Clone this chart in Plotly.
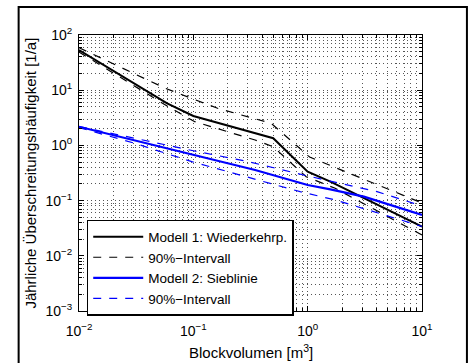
import plotly.graph_objects as go

# ---- data ----
m1_x = [0.01, 0.059, 0.1, 0.347, 0.5, 1.0, 1.58, 10]
m1_y = [53.5, 5.79, 3.41, 1.66, 1.35, 0.334, 0.22, 0.0337]

m1_up_x = [0.01, 0.057, 0.163, 0.48, 1.04, 10]
m1_up_y = [58.9, 10.8, 4.70, 2.51, 0.616, 0.0905]

m1_lo_x = [0.01, 0.059, 0.103, 0.347, 0.5, 0.97, 1.74, 10]
m1_lo_y = [49.2, 5.17, 2.69, 1.25, 0.946, 0.271, 0.167, 0.0238]

m2_x = [0.01, 0.1, 0.347, 1.0, 1.58, 3.1, 10]
m2_y = [2.18, 0.68, 0.358, 0.192, 0.160, 0.118, 0.0548]

m2_up_x = [0.01, 0.022, 0.1, 0.303, 0.918, 4.04, 8.46, 10]
m2_up_y = [2.2, 1.54, 0.80, 0.507, 0.291, 0.145, 0.0893, 0.083]

m2_lo_x = [0.01, 0.0308, 0.097, 0.283, 0.859, 1.74, 7.9, 10]
m2_lo_y = [2.1, 1.09, 0.507, 0.271, 0.145, 0.103, 0.0388, 0.034]

x_tickvals = [0.01, 0.1, 1, 10]
x_ticktext = ["10<sup>−2</sup>", "10<sup>−1</sup>", "10<sup>0</sup>", "10<sup>1</sup>"]
y_tickvals = [0.001, 0.01, 0.1, 1, 10, 100]
y_ticktext = ["10<sup>−3</sup>", "10<sup>−2</sup>", "10<sup>−1</sup>",
              "10<sup>0</sup>", "10<sup>1</sup>", "10<sup>2</sup>"]

leg_m1 = "Modell 1: Wiederkehrp."
leg_int = "90%−Intervall"
leg_m2 = "Modell 2: Sieblinie"
x_title = "Blockvolumen [m<sup>3</sup>]"
y_title = "Jährliche Überschreitungshäufigkeit [1/a]"

FONT = "Liberation Sans, Arial, sans-serif"
DASH = "8px,8px"
GRID = "#555555"

fig = go.Figure()
fig.add_trace(go.Scatter(x=m1_x, y=m1_y, mode="lines", name=leg_m1,
                         line=dict(color="black", width=2)))
fig.add_trace(go.Scatter(x=m1_up_x, y=m1_up_y, mode="lines", name=leg_int,
                         line=dict(color="black", width=1.2, dash=DASH)))
fig.add_trace(go.Scatter(x=m1_lo_x, y=m1_lo_y, mode="lines", showlegend=False,
                         line=dict(color="black", width=1.2, dash=DASH)))
fig.add_trace(go.Scatter(x=m2_x, y=m2_y, mode="lines", name=leg_m2,
                         line=dict(color="#0000ff", width=2.2)))
fig.add_trace(go.Scatter(x=m2_up_x, y=m2_up_y, mode="lines", name=leg_int,
                         line=dict(color="#0000ff", width=1.2, dash=DASH)))
fig.add_trace(go.Scatter(x=m2_lo_x, y=m2_lo_y, mode="lines", showlegend=False,
                         line=dict(color="#0000ff", width=1.2, dash=DASH)))

axis_common = dict(
    showline=True, linecolor="black", linewidth=1, mirror="allticks",
    ticks="inside", ticklen=5, tickcolor="black", tickwidth=1,
    showgrid=True, gridcolor=GRID, gridwidth=1, griddash="1px,3px",
    zeroline=False,
    tickfont=dict(family=FONT, size=14, color="black"),
    minor=dict(dtick="D1", ticks="inside", ticklen=3, tickcolor="black",
               showgrid=True, gridcolor=GRID, gridwidth=1, griddash="1px,3px"),
)

fig.update_xaxes(type="log", range=[-2, 1], tickvals=x_tickvals, ticktext=x_ticktext,
                 ticklabelstandoff=7, **axis_common)
fig.update_yaxes(type="log", range=[-3, 2], tickvals=y_tickvals, ticktext=y_ticktext,
                 ticklabelstandoff=3, **axis_common)

fig.update_layout(
    width=468, height=363, autosize=False,
    margin=dict(l=79, r=46, t=35, b=52, pad=0),
    paper_bgcolor="white", plot_bgcolor="white",
    font=dict(family=FONT, size=15, color="black"),
    showlegend=True,
    legend=dict(x=0.0225, y=0.33, xanchor="left", yanchor="top",
                bgcolor="white", bordercolor="black", borderwidth=1.5,
                font=dict(family=FONT, size=13.5, color="black"),
                tracegroupgap=0, itemwidth=50),
    annotations=[
        dict(text=x_title, xref="paper", yref="paper", x=0.5, y=-0.148,
             xanchor="center", yanchor="middle", showarrow=False,
             font=dict(family=FONT, size=15, color="black")),
        dict(text=y_title, xref="paper", yref="paper", x=-0.144, y=0.5,
             xanchor="center", yanchor="middle", textangle=-90, showarrow=False,
             font=dict(family=FONT, size=15, color="black")),
    ],
    shapes=[
        dict(type="rect", xref="paper", yref="paper",
             x0=-0.176, x1=1.131, y0=-0.3, y1=1.101,
             line=dict(color="black", width=2), fillcolor="rgba(0,0,0,0)", layer="above"),
    ],
)

fig.write_html("out.html")
